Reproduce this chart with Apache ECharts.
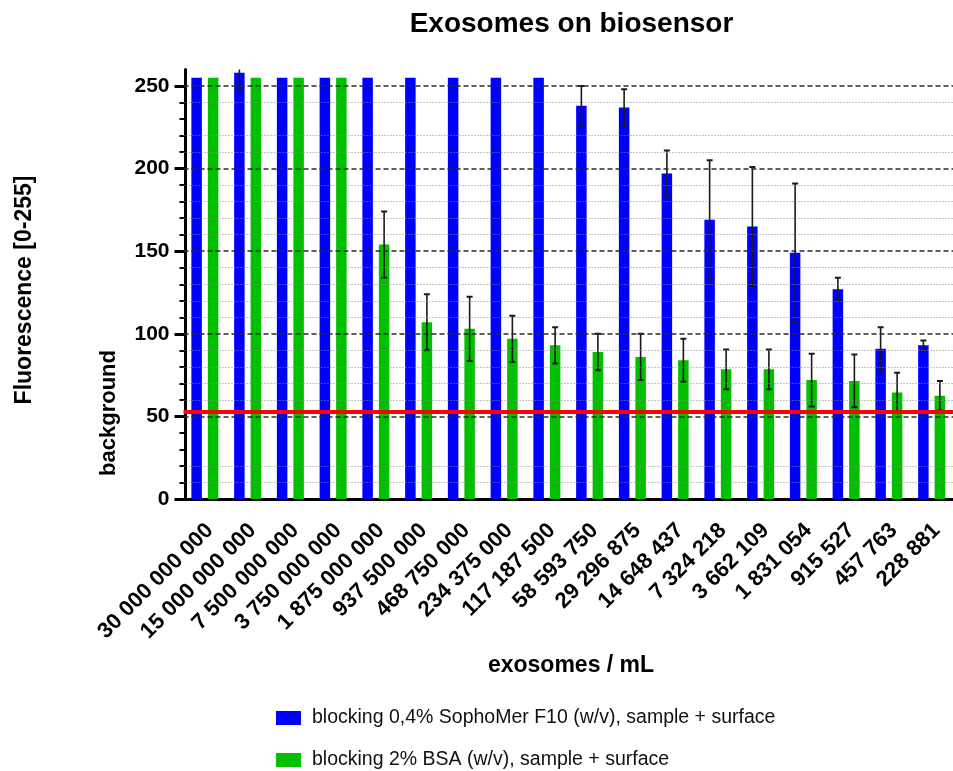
<!DOCTYPE html>
<html>
<head>
<meta charset="utf-8">
<script src="https://cdn.jsdelivr.net/npm/echarts@6/dist/echarts.min.js"></script>
<style>
html,body{margin:0;padding:0;background:#fff;}
#chart{width:953px;height:771px;}
</style>
</head>
<body>
<div id="chart"></div>
<script>
// ---- data ----
const categories = ['30 000 000 000','15 000 000 000','7 500 000 000','3 750 000 000','1 875 000 000','937 500 000','468 750 000','234 375 000','117 187 500','58 593 750','29 296 875','14 648 437','7 324 218','3 662 109','1 831 054','915 527','457 763','228 881'];
const sophomerName = 'blocking 0,4% SophoMer F10 (w/v), sample + surface';
const bsaName = 'blocking 2% BSA (w/v), sample + surface';
const sophomerMean = [255,258,255,255,255,255,255,255,255,238,237,197,169,165,149,127,91,93];
const sophomerErr  = [0,10,0,0,0,0,0,0,0,12,11,14,36,36,42,7,13,3];
const bsaMean = [255,255,255,255,154,107,103,97,93,89,86,84,78.5,78.5,72,71.5,64.5,62.5];
const bsaErr  = [0,0,0,0,20,17,19.5,14,11,11,14,13,12,12,16,16,12,9];
const backgroundLevel = 53;
const yLabelValues = [0,50,100,150,200,250];
const yMinorTickValues = [0,10,20,30,40,50,60,70,80,90,100,110,120,130,140,150,160,170,180,190,200,210,220,230,240,250];
const majorGridValues = [50,100,150,200,250];
const minorGridValues = [10,20,60,70,80,90,110,120,130,140,160,170,180,190,210,220,240];

// ---- layout constants ----
const BAR_W = 10.5;
const BAR_GAP_PX = 6;
const OFFSET = BAR_GAP_PX/2 + BAR_W/2;
const FONT = 'Liberation Sans, Arial, sans-serif';

const chart = echarts.init(document.getElementById('chart'), null, {renderer:'canvas'});

function errRenderer(offset){
  return function(params, api){
    const i = api.value(0), m = api.value(1), e = api.value(2);
    if(!e) return null;
    const top = api.coord([i, m + e]);
    const bot = api.coord([i, m - e]);
    const x = top[0] + offset;
    return {type:'group', children:[
      {type:'line', shape:{x1:x,y1:top[1],x2:x,y2:bot[1]}, style:{stroke:'#1a1a1a', lineWidth:1.6}},
      {type:'line', shape:{x1:x-3,y1:top[1],x2:x+3,y2:top[1]}, style:{stroke:'#1a1a1a', lineWidth:2}},
      {type:'line', shape:{x1:x-3,y1:bot[1],x2:x+3,y2:bot[1]}, style:{stroke:'#1a1a1a', lineWidth:2}}
    ]};
  };
}

const gridMarks = [];
minorGridValues.forEach(v => gridMarks.push({yAxis:v, lineStyle:{color:'#8a8a8a', width:1, type:[1,2]}}));
majorGridValues.forEach(v => gridMarks.push({yAxis:v, lineStyle:{color:'#2a2a2a', width:1.6, type:[5,3]}}));

const legendCommon = {
  orient:'horizontal', left:271,
  itemWidth:25, itemHeight:14,
  icon:'rect',
  textStyle:{fontSize:19.5, color:'#111', fontFamily:FONT, padding:[0,0,0,6]}
};

const option = {
  animation:false,
  backgroundColor:'#fff',
  textStyle:{fontFamily:FONT},
  grid:{left:183.5, top:69.5, width:775, height:429.5, containLabel:false},
  legend:[
    Object.assign({data:[sophomerName], top:703}, legendCommon),
    Object.assign({data:[bsaName], top:745}, legendCommon)
  ],
  graphic:[
    {type:'text', x:571.5, y:24, style:{text:'Exosomes on biosensor', font:'bold 28px "Liberation Sans", Arial, sans-serif', fill:'#000', align:'center', verticalAlign:'middle'}},
    {type:'text', x:571, y:666, style:{text:'exosomes / mL', font:'bold 23px "Liberation Sans", Arial, sans-serif', fill:'#000', align:'center', verticalAlign:'middle'}},
    {type:'text', x:25, y:290, rotation:Math.PI/2, style:{text:'Fluorescence [0-255]', font:'bold 23px "Liberation Sans", Arial, sans-serif', fill:'#000', align:'center', verticalAlign:'middle'}},
    {type:'text', x:109, y:413, rotation:Math.PI/2, style:{text:'background', font:'bold 22px "Liberation Sans", Arial, sans-serif', fill:'#000', align:'center', verticalAlign:'middle'}}
  ],
  xAxis:{
    type:'category', data:categories, boundaryGap:true,
    axisLine:{lineStyle:{color:'#000', width:3}},
    axisTick:{alignWithLabel:true, length:10, lineStyle:{color:'#000', width:3}},
    axisLabel:{rotate:45, interval:0, margin:33, padding:[0,-7,0,0], color:'#000', fontSize:22, fontWeight:'bold', fontFamily:FONT},
    splitLine:{show:false}
  },
  yAxis:[
    {
      type:'value', min:0, max:260, interval:10, offset:-2,
      axisLine:{show:true, lineStyle:{color:'#000', width:3}},
      axisTick:{show:true, length:6, customValues:yMinorTickValues, lineStyle:{color:'#000', width:2}},
      axisLabel:{show:true, margin:16, color:'#000', fontSize:21, fontWeight:'bold', fontFamily:FONT,
        customValues:yLabelValues,
        formatter: v => (yLabelValues.indexOf(v) >= 0 ? String(v) : '')},
      splitLine:{show:false}
    },
    {
      type:'value', min:0, max:260, offset:-2, position:'left',
      axisLine:{show:false},
      axisTick:{show:true, length:11, customValues:yLabelValues, lineStyle:{color:'#000', width:3}},
      axisLabel:{show:false},
      splitLine:{show:false}
    }
  ],
  series:[
    {type:'line', data:[], z:0, silent:true, markLine:{silent:true, symbol:['none','none'], label:{show:false}, animation:false, data:gridMarks}},
    {name:sophomerName, type:'bar', data:sophomerMean, barWidth:BAR_W, barGap:(BAR_GAP_PX/BAR_W*100)+'%', itemStyle:{color:'#0000ff'}, z:2},
    {name:bsaName, type:'bar', data:bsaMean, barWidth:BAR_W, barGap:(BAR_GAP_PX/BAR_W*100)+'%', itemStyle:{color:'#00c000'}, z:2},
    {type:'custom', clip:true, z:4, silent:true, renderItem:errRenderer(-OFFSET),
      data:sophomerMean.map((m,i)=>[i,m,sophomerErr[i]])},
    {type:'custom', clip:true, z:4, silent:true, renderItem:errRenderer(OFFSET),
      data:bsaMean.map((m,i)=>[i,m,bsaErr[i]])},
    {type:'line', data:[], z:6, silent:true, markLine:{silent:true, symbol:['none','none'], label:{show:false}, animation:false,
      data:[{yAxis:backgroundLevel, lineStyle:{color:'#ff0000', width:4, type:'solid'}}]}}
  ]
};
chart.setOption(option);
</script>
</body>
</html>
